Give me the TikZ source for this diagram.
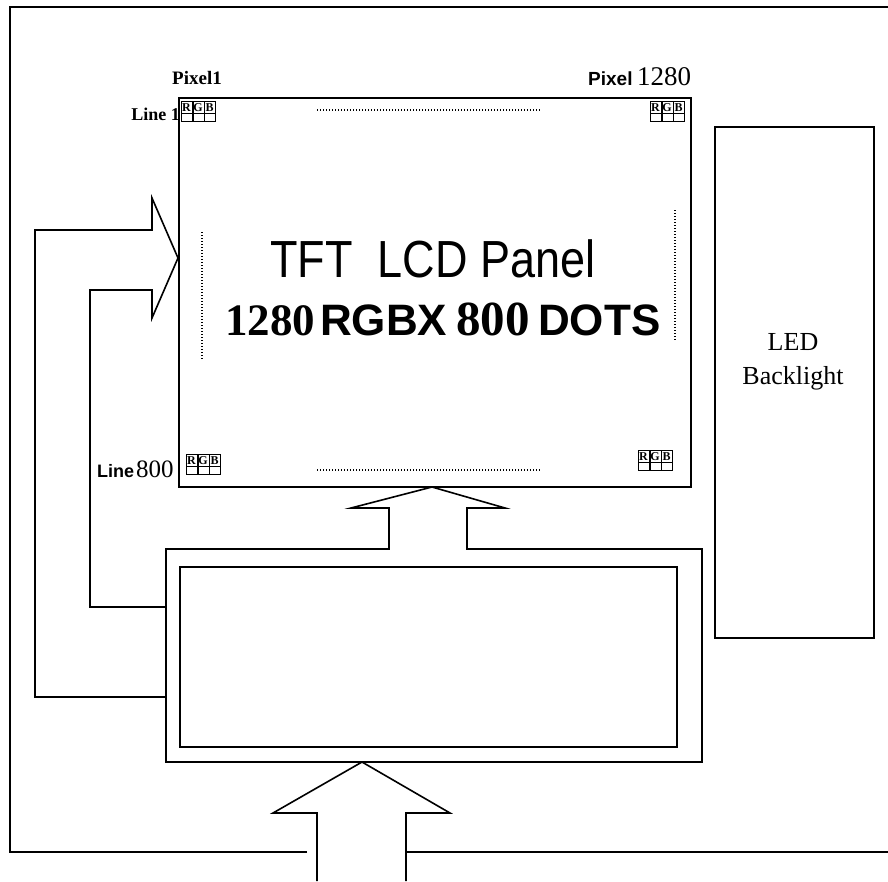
\documentclass[tikz,border=0pt]{standalone}
\usepackage{fontspec}
\setmainfont{Liberation Serif}
\newfontfamily\arial{Liberation Sans}
\usetikzlibrary{calc}
\begin{document}
\begin{tikzpicture}[x=1pt,y=-1pt,
  ln/.style={line width=1.6pt,line join=miter},
  dotline/.style={line width=1.2pt,dash pattern=on 1.2pt off 1.8pt},
  rgbcell/.style={draw,line width=1.1pt,minimum width=11pt,minimum height=20pt,inner sep=0pt},
  lbl/.style={inner sep=0pt,anchor=base west}]
\useasboundingbox (0,0) rectangle (888,881);
\fill[white] (0,0) rectangle (888,881);
% outer frame
\draw[ln] (307,852) -- (10,852) -- (10,7) -- (888,7);
\draw[ln] (406,852) -- (888,852);
% panel
\node[draw,ln,minimum width=512pt,minimum height=389pt,inner sep=0pt,anchor=north west] (panel) at (178,97) {};
% backlight
\node[draw,ln,minimum width=159pt,minimum height=511pt,inner sep=0pt,anchor=north west] (bl) at (714,126) {};
\node[align=center,font=\fontsize{26}{34}\selectfont,inner sep=0pt] (bltext) at (793,362) {LED\\Backlight};
% controller inner box
\node[draw,ln,minimum width=497pt,minimum height=180pt,inner sep=0pt,anchor=north west] (ctrl) at (179,566) {};
% controller outer box with upward arrow to panel
\coordinate (uptip) at (432,487);
\draw[ln] (389,549) -- (166,549) -- (166,762) -- (702,762) -- (702,549) -- (467,549)
  -- (467,508) -- (505,508) -- (uptip) -- (351,508) -- (389,508) -- cycle;
% left arrow to panel
\coordinate (lefttip) at (178,258);
\draw[ln] (166,697) -- (35,697) -- (35,230) -- (152,230) -- (152,198) -- (lefttip)
  -- (152,318) -- (152,290) -- (90,290) -- (90,607) -- (166,607);
% bottom input arrow
\coordinate (bottip) at (362,762);
\draw[ln] (317,881) -- (317,813) -- (273,813) -- (bottip) -- (450,813) -- (406,813) -- (406,881);
% dotted lines
\draw[dotline] (317,110) -- (540,110);
\draw[dotline] (317,470) -- (540,470);
\draw[dotline] (202,232) -- (202,360);
\draw[dotline] (675,210) -- (675,340);
% RGB pixel glyphs
\newcommand{\rgbglyph}[2]{%
  \foreach \i/\c in {0/R,1/G,2/B}{%
    \node[rgbcell,anchor=north west] (#2\c) at ($(#1)+(\i*11.5,0)$) {};
    \draw[line width=0.8pt] ($(#1)+(\i*11.5,12)$) -- ++(11,0);
    \node[inner sep=0pt,font=\bfseries\fontsize{12}{12}\selectfont] at ($(#1)+(\i*11.5+5.5,6.5)$) {\c};
  }}
\coordinate (tl) at (181,101);
\coordinate (tr) at (650,101);
\coordinate (bll) at (186,454);
\coordinate (brr) at (638,450);
\rgbglyph{tl}{a}
\rgbglyph{tr}{b}
\rgbglyph{bll}{c}
\rgbglyph{brr}{d}
% corner labels
\node[lbl,font=\bfseries\fontsize{19}{19}\selectfont] (p1) at (172,84) {Pixel1};
\node[inner sep=0pt,anchor=base east,font=\bfseries\fontsize{18}{18}\selectfont] (l1) at (180,120) {Line 1};
\node[lbl,font=\arial\bfseries\fontsize{19}{19}\selectfont] (p1280a) at (588,85) {Pixel};
\node[lbl,font=\fontsize{27}{27}\selectfont] (p1280b) at (637,85) {1280};
\node[lbl,font=\arial\bfseries\fontsize{18}{18}\selectfont] (l800a) at (97,477) {Line};
\node[lbl,font=\fontsize{25}{25}\selectfont] (l800b) at (136,477) {800};
% panel title
\node[lbl,font=\arial\fontsize{45}{45}\selectfont] (title) at (270,277) {\scalebox{1}[1.16]{TFT\ \ LCD Panel}};
\node[lbl,font=\bfseries\fontsize{45}{45}\selectfont] (n1280) at (225,335) {1280};
\node[lbl,font=\arial\bfseries\fontsize{44}{44}\selectfont] (rgbx) at (320,335) {RGBX};
\node[lbl,font=\bfseries\fontsize{49}{49}\selectfont] (n800) at (456,335) {800};
\node[lbl,font=\arial\bfseries\fontsize{44}{44}\selectfont] (dotstext) at (538,335) {DOTS};
\end{tikzpicture}
\end{document}
